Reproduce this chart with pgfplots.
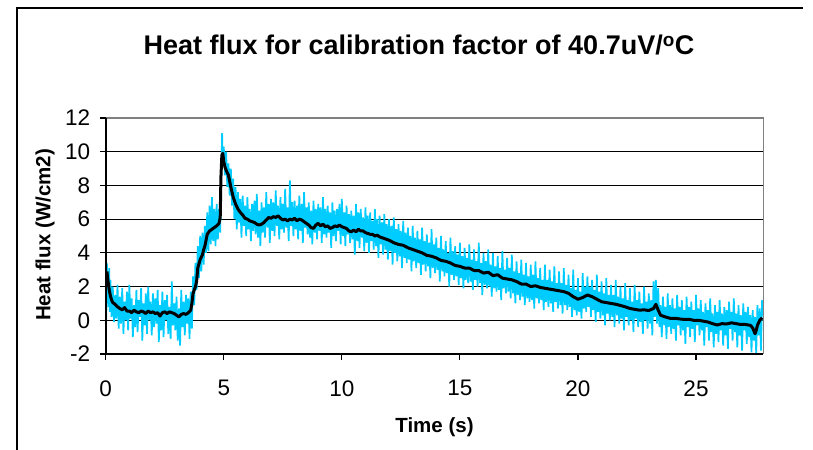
\documentclass[border=0pt]{standalone}
\usepackage{fontspec}
\setmainfont{Liberation Sans}
\usepackage{pgfplots}
\pgfplotsset{compat=1.18}
\definecolor{cyanline}{RGB}{0,204,255}
\definecolor{framegray}{RGB}{128,128,128}
\begin{document}
\begin{tikzpicture}
\useasboundingbox (0,0) rectangle (813bp,450bp);
\draw[line width=1.5bp] (17bp,0) -- (17bp,442bp) -- (803bp,442bp);
\node[anchor=base, font=\fontsize{27bp}{32bp}\selectfont\bfseries] at (419bp,395bp) {Heat flux for calibration factor of 40.7uV/\textsuperscript{o}C};
\node[anchor=base, font=\fontsize{20.5bp}{24bp}\selectfont\bfseries] at (434.5bp,18bp) {Time (s)};
\node[rotate=90, anchor=center, font=\fontsize{20.5bp}{24bp}\selectfont\bfseries] at (45bp,215bp) {Heat flux (W/cm2)};
\begin{axis}[at={(105.7bp,96bp)}, anchor=south west, width=657.6bp, height=236bp, scale only axis,
 xmin=0, xmax=27.85, ymin=-2, ymax=12,
 xtick={0,5,...,25}, ytick={-2,0,...,12},
 axis line style={draw=none},
 tick align=outside, xtick pos=left, ytick pos=left,
 major tick length=6bp, tick style={black, line width=1.2bp},
 ymajorgrids, major grid style={black, line width=0.9bp},
 ticklabel style={font=\fontsize{22.5bp}{26bp}\selectfont},
 xticklabel style={yshift=-17bp},
 yticklabel style={xshift=-6bp},
 /pgf/number format/assume math mode=true,
 clip=true]
\addplot[cyanline, line width=1.7bp, mark=none] coordinates {
(0,6.3)(0.025,0.0)(0.05,3.4)(0.075,1.3)(0.1,2.9)(0.125,0.8)(0.15,3.1)(0.175,0.5)(0.2,2.4)(0.25,0.2)(0.3,2.0)(0.35,-0.1)(0.4,1.5)(0.45,0.1)(0.5,2.1)(0.55,-0.5)(0.6,1.4)(0.65,-0.2)(0.7,1.9)(0.75,-0.8)(0.8,1.1)(0.85,0.0)(0.9,1.7)(0.95,-0.6)
(1.0,2.1)(1.05,0.1)(1.1,1.3)(1.15,-1.0)(1.2,0.9)(1.25,-0.4)(1.3,1.8)(1.35,-0.7)(1.4,1.2)(1.45,0.2)(1.5,1.9)(1.55,-1.2)(1.6,1.0)(1.65,-0.3)(1.7,1.6)(1.75,-0.8)(1.8,2.0)(1.85,0.0)(1.9,1.1)(1.95,-0.9)
(2.0,1.6)(2.05,-0.4)(2.1,1.3)(2.15,-0.2)(2.2,1.8)(2.25,-1.3)(2.3,0.9)(2.35,-0.6)(2.4,1.7)(2.45,-1.0)(2.5,1.2)(2.55,0.0)(2.6,1.5)(2.65,-0.8)(2.7,0.8)(2.75,-1.1)(2.8,2.3)(2.85,-0.3)(2.9,1.0)(2.95,-0.6)
(3.0,1.4)(3.05,-1.2)(3.1,0.7)(3.15,-1.5)(3.2,1.8)(3.25,-0.4)(3.3,1.1)(3.35,-0.9)(3.4,1.5)(3.45,-0.2)(3.5,1.3)(3.55,-1.1)(3.6,1.7)(3.65,-0.5)(3.7,2.6)(3.75,0.9)(3.8,3.4)(3.85,1.8)(3.9,4.4)(3.95,2.5)
(4.0,5.0)(4.05,2.9)(4.1,5.2)(4.15,3.3)(4.2,5.6)(4.25,4.0)(4.3,6.4)(4.35,4.1)(4.4,6.8)(4.45,4.5)(4.5,7.3)(4.55,4.7)(4.6,6.6)(4.65,4.4)(4.7,6.9)(4.75,4.8)(4.8,6.6)(4.85,5.2)(4.88,8.0)(4.9,9.0)(4.93,11.1)(4.96,9.2)
(5.0,10.3)(5.05,8.6)(5.1,10.0)(5.15,7.9)(5.2,9.3)(5.25,7.4)(5.3,9.0)(5.35,6.8)(5.4,8.4)(5.45,6.0)(5.5,7.9)(5.55,5.4)(5.6,7.6)(5.65,5.8)(5.7,7.2)(5.75,4.9)(5.8,7.4)(5.85,5.6)(5.9,6.8)(5.95,5.0)
(6.0,7.3)(6.05,5.4)(6.1,6.6)(6.15,4.7)(6.2,6.9)(6.25,5.3)(6.3,7.1)(6.35,5.1)(6.4,7.5)(6.45,4.9)(6.5,6.5)(6.55,4.4)(6.6,7.0)(6.65,5.2)(6.7,6.7)(6.75,4.9)(6.8,7.6)(6.85,5.5)(6.9,6.9)(6.95,4.6)
(7.0,7.2)(7.05,5.3)(7.1,7.0)(7.15,5.0)(7.2,7.7)(7.25,5.6)(7.3,6.8)(7.35,4.8)(7.4,7.3)(7.45,5.4)(7.5,6.9)(7.55,5.2)(7.6,7.8)(7.65,5.5)(7.7,6.7)(7.75,4.7)(7.8,8.3)(7.85,5.6)(7.9,7.0)(7.95,5.0)
(8.0,7.1)(8.05,5.4)(8.1,6.8)(8.15,4.8)(8.2,7.4)(8.25,5.3)(8.3,6.9)(8.35,4.6)(8.4,7.6)(8.45,5.5)(8.5,6.7)(8.55,5.1)(8.6,7.0)(8.65,4.9)(8.7,6.5)(8.75,4.5)(8.8,7.1)(8.85,5.2)(8.9,6.6)(8.95,4.8)
(9.0,6.9)(9.05,5.3)(9.1,6.7)(9.15,4.6)(9.2,7.3)(9.25,5.1)(9.3,6.6)(9.35,4.9)(9.4,6.8)(9.45,5.2)(9.5,6.4)(9.55,4.3)(9.6,7.0)(9.65,5.0)(9.7,6.5)(9.75,4.7)(9.8,6.6)(9.85,5.3)(9.9,6.9)(9.95,4.5)
(10.0,7.2)(10.05,5.0)(10.1,6.4)(10.15,4.4)(10.2,6.8)(10.25,5.1)(10.3,6.3)(10.35,4.6)(10.4,6.5)(10.45,4.8)(10.5,6.2)(10.55,3.9)(10.6,6.9)(10.65,4.7)(10.7,6.4)(10.75,4.3)(10.8,6.6)(10.85,4.9)(10.9,6.1)(10.95,4.1)
(11.0,6.7)(11.05,4.6)(11.1,6.2)(11.15,4.0)(11.2,6.4)(11.25,4.7)(11.3,5.9)(11.35,4.2)(11.4,6.6)(11.45,4.4)(11.5,6.0)(11.55,3.7)(11.6,6.2)(11.65,4.5)(11.7,5.8)(11.75,3.9)(11.8,6.3)(11.85,4.2)(11.9,5.7)(11.95,3.6)
(12.0,6.0)(12.05,4.1)(12.1,5.6)(12.15,3.3)(12.2,6.1)(12.25,4.0)(12.3,5.4)(12.35,3.5)(12.4,5.7)(12.45,3.8)(12.5,5.3)(12.55,3.1)(12.6,5.9)(12.65,3.7)(12.7,5.2)(12.75,3.4)(12.8,5.5)(12.85,3.6)(12.9,5.0)(12.95,2.9)
(13.0,5.6)(13.05,3.5)(13.1,4.9)(13.15,3.1)(13.2,5.3)(13.25,3.4)(13.3,4.8)(13.35,2.7)(13.4,5.5)(13.45,3.3)(13.5,4.7)(13.55,2.9)(13.6,5.1)(13.65,3.2)(13.7,4.6)(13.75,2.5)(13.8,5.4)(13.85,3.1)(13.9,4.5)(13.95,2.8)
(14.0,4.9)(14.05,3.0)(14.1,4.3)(14.15,2.3)(14.2,5.0)(14.25,2.9)(14.3,4.2)(14.35,2.6)(14.4,4.7)(14.45,2.8)(14.5,4.0)(14.55,2.0)(14.6,4.9)(14.65,2.7)(14.7,4.1)(14.75,2.4)(14.8,4.4)(14.85,2.6)(14.9,3.9)(14.95,2.1)
(15.0,4.6)(15.05,2.5)(15.1,3.8)(15.15,1.9)(15.2,4.3)(15.25,2.4)(15.3,3.7)(15.35,2.2)(15.4,4.5)(15.45,2.3)(15.5,3.6)(15.55,1.8)(15.6,4.2)(15.65,2.4)(15.7,3.5)(15.75,2.0)(15.8,4.6)(15.85,2.2)(15.9,3.4)(15.95,1.5)
(16.0,4.0)(16.05,2.1)(16.1,3.5)(16.15,1.9)(16.2,4.2)(16.25,2.0)(16.3,3.3)(16.35,1.4)(16.4,4.0)(16.45,1.9)(16.5,3.2)(16.55,1.7)(16.6,3.8)(16.65,1.8)(16.7,3.1)(16.75,1.2)(16.8,4.1)(16.85,1.9)(16.9,3.0)(16.95,1.6)
(17.0,3.7)(17.05,1.7)(17.1,3.1)(17.15,1.3)(17.2,3.9)(17.25,1.6)(17.3,2.9)(17.35,1.0)(17.4,3.5)(17.45,1.5)(17.5,2.8)(17.55,1.2)(17.6,3.6)(17.65,1.4)(17.7,2.7)(17.75,0.9)(17.8,3.4)(17.85,1.3)(17.9,2.6)(17.95,1.1)
(18.0,3.3)(18.05,1.2)(18.1,2.7)(18.15,0.7)(18.2,3.5)(18.25,1.3)(18.3,2.5)(18.35,1.0)(18.4,3.1)(18.45,1.2)(18.5,2.4)(18.55,0.6)(18.6,3.3)(18.65,1.1)(18.7,2.4)(18.75,0.8)(18.8,3.0)(18.85,1.0)(18.9,2.3)(18.95,0.5)
(19.0,3.2)(19.05,1.1)(19.1,2.2)(19.15,0.7)(19.2,2.9)(19.25,0.9)(19.3,2.2)(19.35,0.4)(19.4,3.1)(19.45,0.9)(19.5,2.1)(19.55,0.6)(19.6,2.7)(19.65,0.8)(19.7,1.9)(19.75,0.2)(19.8,3.0)(19.85,0.6)(19.9,1.8)(19.95,0.3)
(20.0,2.5)(20.05,0.5)(20.1,1.7)(20.15,0.1)(20.2,2.8)(20.25,0.7)(20.3,2.0)(20.35,0.5)(20.4,2.6)(20.45,0.8)(20.5,2.0)(20.55,0.2)(20.6,2.4)(20.65,0.6)(20.7,1.8)(20.75,-0.1)(20.8,2.7)(20.85,0.5)(20.9,1.7)(20.95,0.1)
(21.0,2.3)(21.05,0.3)(21.1,1.6)(21.15,-0.3)(21.2,2.5)(21.25,0.4)(21.3,1.5)(21.35,0.0)(21.4,2.1)(21.45,0.2)(21.5,1.5)(21.55,-0.4)(21.6,2.4)(21.65,0.3)(21.7,1.4)(21.75,-0.2)(21.8,2.0)(21.85,0.1)(21.9,1.3)(21.95,-0.6)
(22.0,2.2)(22.05,0.2)(22.1,1.2)(22.15,-0.3)(22.2,1.9)(22.25,0.0)(22.3,1.1)(22.35,-0.7)(22.4,2.1)(22.45,0.1)(22.5,1.2)(22.55,-0.4)(22.6,1.7)(22.65,-0.1)(22.7,1.0)(22.75,-0.8)(22.8,2.0)(22.85,0.0)(22.9,1.1)(22.95,-0.5)
(23.0,1.6)(23.05,-0.2)(23.1,1.2)(23.15,-0.9)(23.2,2.3)(23.25,0.2)(23.3,2.4)(23.35,-0.2)(23.4,1.9)(23.45,-0.4)(23.5,0.9)(23.55,-1.0)(23.6,1.4)(23.65,-0.3)(23.7,0.8)(23.75,-1.1)(23.8,1.6)(23.85,-0.4)(23.9,0.9)(23.95,-0.8)
(24.0,1.3)(24.05,-0.5)(24.1,0.7)(24.15,-1.2)(24.2,1.5)(24.25,-0.3)(24.3,0.8)(24.35,-0.9)(24.4,1.2)(24.45,-0.6)(24.5,0.6)(24.55,-1.4)(24.6,1.4)(24.65,-0.4)(24.7,0.8)(24.75,-1.0)(24.8,1.1)(24.85,-0.5)(24.9,0.6)(24.95,-1.3)
(25.0,1.5)(25.05,-0.3)(25.1,0.7)(25.15,-0.9)(25.2,1.2)(25.25,-0.6)(25.3,0.5)(25.35,-1.5)(25.4,1.0)(25.45,-0.4)(25.5,0.6)(25.55,-1.2)(25.6,1.3)(25.65,-0.7)(25.7,0.4)(25.75,-1.6)(25.8,0.9)(25.85,-0.8)(25.9,0.5)(25.95,-1.3)
(26.0,1.2)(26.05,-0.6)(26.1,0.4)(26.15,-1.5)(26.2,0.8)(26.25,-0.9)(26.3,0.6)(26.35,-1.7)(26.4,1.1)(26.45,-0.5)(26.5,0.5)(26.55,-1.2)(26.6,1.3)(26.65,-0.7)(26.7,0.4)(26.75,-1.6)(26.8,0.9)(26.85,-0.9)(26.9,0.3)(26.95,-1.8)
(27.0,1.0)(27.05,-0.6)(27.1,0.5)(27.15,-1.4)(27.2,0.8)(27.25,-1.0)(27.3,0.3)(27.35,-1.9)(27.4,0.6)(27.45,-1.2)(27.5,0.2)(27.55,-2.0)(27.6,0.9)(27.65,-0.9)(27.7,0.7)(27.75,-1.8)(27.8,1.2)(27.85,0.3)
};
\addplot[black, line width=3bp, line join=round, mark=none] coordinates {
(0.05,2.9)(0.1,2.3)(0.15,1.8)(0.2,1.45)(0.25,1.2)(0.3,1.05)(0.4,0.95)(0.5,0.8)(0.6,0.7)(0.7,0.62)(0.8,0.75)(0.9,0.55)(1.0,0.55)(1.1,0.45)(1.2,0.6)(1.3,0.5)(1.4,0.45)(1.5,0.55)(1.6,0.5)(1.7,0.4)(1.8,0.55)(1.9,0.45)(2.0,0.5)(2.1,0.4)(2.2,0.45)(2.3,0.25)(2.4,0.45)(2.5,0.5)(2.6,0.4)(2.7,0.5)(2.8,0.45)(2.9,0.4)(3.0,0.3)(3.1,0.2)(3.2,0.35)(3.3,0.4)(3.4,0.35)(3.5,0.45)(3.6,0.6)(3.65,1.0)(3.7,1.6)(3.8,2.0)(3.85,2.3)(3.9,3.1)(4.0,3.6)(4.1,3.9)(4.15,4.2)(4.2,4.4)(4.3,5.1)(4.4,5.3)(4.5,5.4)(4.6,5.5)(4.7,5.6)(4.8,5.75)(4.85,6.1)(4.88,8.5)(4.92,9.8)(4.96,9.9)(5.0,9.4)(5.05,9.1)(5.1,8.9)(5.2,8.6)(5.3,7.9)(5.4,7.3)(5.5,6.9)(5.6,6.6)(5.7,6.4)(5.8,6.25)(5.9,6.05)(6.0,6.0)(6.1,5.9)(6.2,5.85)(6.3,5.8)(6.4,5.7)(6.5,5.65)(6.6,5.7)(6.7,5.8)(6.8,5.95)(6.9,6.1)(7.0,6.05)(7.1,6.15)(7.2,6.1)(7.3,6.2)(7.4,6.05)(7.5,5.95)(7.6,6.0)(7.7,5.9)(7.8,6.0)(7.9,5.95)(8.0,6.05)(8.1,5.9)(8.2,6.0)(8.3,5.95)(8.4,5.85)(8.5,5.75)(8.6,5.65)(8.7,5.5)(8.8,5.45)(8.9,5.65)(9.0,5.75)(9.1,5.6)(9.2,5.7)(9.3,5.55)(9.4,5.6)(9.5,5.45)(9.6,5.5)(9.7,5.6)(9.8,5.55)(9.9,5.65)(10.0,5.55)(10.1,5.5)(10.2,5.45)(10.3,5.3)(10.4,5.25)(10.5,5.35)(10.6,5.25)(10.7,5.4)(10.8,5.3)(10.9,5.3)(11.0,5.2)(11.1,5.15)(11.2,5.1)(11.3,5.1)(11.4,5.0)(11.5,5.05)(11.6,4.95)(11.7,4.9)(11.8,4.85)(11.9,4.8)(12.0,4.75)(12.2,4.6)(12.4,4.5)(12.6,4.45)(12.8,4.3)(13.0,4.2)(13.2,4.1)(13.4,4.0)(13.6,3.85)(13.8,3.8)(14.0,3.7)(14.2,3.55)(14.4,3.5)(14.6,3.4)(14.8,3.25)(15.0,3.2)(15.2,3.1)(15.4,3.1)(15.6,2.95)(15.8,2.95)(16.0,2.8)(16.2,2.85)(16.4,2.65)(16.6,2.7)(16.8,2.5)(17.0,2.45)(17.2,2.4)(17.4,2.3)(17.6,2.15)(17.8,2.15)(18.0,2.0)(18.2,2.05)(18.4,1.95)(18.6,1.9)(18.8,1.85)(19.0,1.8)(19.2,1.75)(19.4,1.7)(19.6,1.6)(19.8,1.4)(20.0,1.25)(20.2,1.35)(20.4,1.5)(20.6,1.4)(20.8,1.25)(21.0,1.1)(21.2,1.05)(21.4,1.0)(21.6,0.95)(21.8,0.88)(22.0,0.8)(22.2,0.7)(22.4,0.65)(22.6,0.6)(22.8,0.62)(23.0,0.58)(23.2,0.7)(23.3,0.95)(23.4,0.6)(23.5,0.3)(23.7,0.2)(23.9,0.12)(24.1,0.12)(24.3,0.08)(24.5,0.05)(24.7,0.06)(24.9,0.0)(25.1,0.0)(25.3,-0.05)(25.5,-0.1)(25.7,-0.2)(25.9,-0.28)(26.1,-0.2)(26.3,-0.22)(26.5,-0.15)(26.7,-0.2)(26.9,-0.25)(27.1,-0.25)(27.3,-0.3)(27.4,-0.45)(27.5,-0.8)(27.55,-0.6)(27.6,-0.3)(27.7,0.0)(27.8,0.15)
};
\end{axis}
\draw[framegray, line width=1.5bp] (105.7bp,332bp) -- (763.3bp,332bp) -- (763.3bp,96bp);
\draw[black, line width=1.8bp] (105.7bp,332bp) -- (105.7bp,96bp) -- (763.3bp,96bp);
\end{tikzpicture}
\end{document}
